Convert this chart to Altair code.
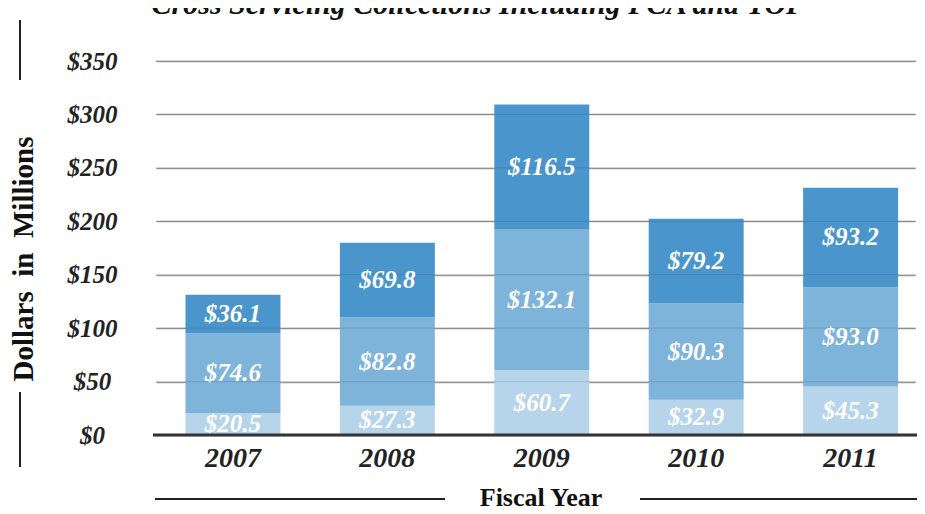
import altair as alt
import pandas as pd

years = ["2007", "2008", "2009", "2010", "2011"]
lower = [20.5, 27.3, 60.7, 32.9, 45.3]
middle = [74.6, 82.8, 132.1, 90.3, 93.0]
upper = [36.1, 69.8, 116.5, 79.2, 93.2]
series = ["Lower", "Middle", "Upper"]
colors = ["#B6D5EA", "#7EB3DA", "#4A96CC"]
y_ticks = [0, 50, 100, 150, 200, 250, 300, 350]

rows = []
for i, y in enumerate(years):
    for k, (name, vals) in enumerate(zip(series, [lower, middle, upper])):
        rows.append({"year": y, "series": name, "order": k, "value": vals[i]})
df = pd.DataFrame(rows)

SERIF = "Liberation Serif"
W, H = 762, 374

xscale = alt.Scale(domain=years, paddingInner=0.385, paddingOuter=0.16, align=0.617)
yscale = alt.Scale(domain=[0, 350], nice=False, zero=True)

yaxis = alt.Axis(title=None, values=y_ticks, domain=False, ticks=False, tickSize=0,
                 labelPadding=63, labelAlign="center", labelBaseline="middle",
                 labelExpr="'$' + datum.value",
                 labelFont=SERIF, labelFontSize=25, labelFontStyle="italic",
                 labelFontWeight="bold", labelColor="#222",
                 grid=True, gridColor="#9a9a9a", gridWidth=1.3)
xaxis = alt.Axis(title=None, domain=False, ticks=False, tickSize=0, labelPadding=9,
                 labelFont=SERIF, labelFontSize=28, labelFontStyle="italic",
                 labelFontWeight="bold", labelColor="#222", labelAngle=0, grid=False)

base = alt.Chart(df).transform_stack(
    stack="value", groupby=["year"], sort=[alt.SortField("order")], as_=["y0", "y1"]
)

bars = base.mark_bar(opacity=1).encode(
    x=alt.X("year:N", scale=xscale, sort=years, axis=xaxis),
    y=alt.Y("y0:Q", scale=yscale, axis=yaxis),
    y2="y1:Q",
    color=alt.Color("series:N", scale=alt.Scale(domain=series, range=colors), legend=None),
)

grid_df = pd.DataFrame({"v": y_ticks[1:]})
grid_over = alt.Chart(grid_df).mark_rule(color="#000", opacity=0.1, strokeWidth=1.3).encode(
    y=alt.Y("v:Q", scale=yscale, axis=yaxis)
)

zero_df = pd.DataFrame({"v": [0]})
# white cover over the light frame at the plot's left and right edges
cover = [
    alt.Chart(zero_df).mark_rule(color="white", strokeWidth=2.5).encode(
        x=alt.value(0), y=alt.value(0), y2=alt.value(H - 2)),
    alt.Chart(zero_df).mark_rule(color="white", strokeWidth=2.5).encode(
        x=alt.value(W), y=alt.value(0), y2=alt.value(H - 2)),
]

labels = base.transform_calculate(
    mid="(datum.y0 + datum.y1) / 2",
    label="'$' + format(datum.value, '.1f')",
).mark_text(font=SERIF, fontSize=25, fontStyle="italic", fontWeight="bold",
            color="white", baseline="middle", align="center").encode(
    x=alt.X("year:N", scale=xscale, sort=years, axis=xaxis),
    y=alt.Y("mid:Q", scale=yscale, axis=yaxis),
    text="label:N",
)

zero_line = alt.Chart(zero_df).mark_rule(color="#333", strokeWidth=3).encode(
    y=alt.Y("v:Q", scale=yscale, axis=yaxis), x=alt.value(-2), x2=alt.value(W)
)

one = pd.DataFrame({"t": ["Cross Servicing Collections Including PCA and TOP"]})
title = alt.Chart(one).mark_text(font=SERIF, fontSize=30, fontStyle="italic", fontWeight="bold",
                                 color="#111", align="center", baseline="alphabetic").encode(
    x=alt.value(323), y=alt.value(-47), text="t:N"
)

ytitle_df = pd.DataFrame({"t": ["Dollars\u00a0\u00a0in\u00a0\u00a0Millions"]})
ytitle = alt.Chart(ytitle_df).mark_text(font=SERIF, fontSize=29, fontWeight="bold", color="#111",
                                        align="center", baseline="middle", angle=270).encode(
    x=alt.value(-131), y=alt.value(198), text="t:N"
)

xtitle_df = pd.DataFrame({"t": ["Fiscal Year"]})
xtitle = alt.Chart(xtitle_df).mark_text(font=SERIF, fontSize=26, fontWeight="bold", color="#111",
                                        align="center", baseline="alphabetic").encode(
    x=alt.value(386), y=alt.value(445), text="t:N"
)

line_style = dict(color="#222", strokeWidth=2)
deco = [
    alt.Chart(zero_df).mark_rule(**line_style).encode(x=alt.value(-135), y=alt.value(-41), y2=alt.value(19)),
    alt.Chart(zero_df).mark_rule(**line_style).encode(x=alt.value(-135), y=alt.value(331), y2=alt.value(406)),
    alt.Chart(zero_df).mark_rule(**line_style).encode(x=alt.value(0), x2=alt.value(290), y=alt.value(438)),
    alt.Chart(zero_df).mark_rule(**line_style).encode(x=alt.value(485), x2=alt.value(W), y=alt.value(438)),
]

chart = alt.layer(bars, grid_over, *cover, labels, zero_line, title, ytitle, xtitle, *deco).properties(
    width=W, height=H,
    autosize=alt.AutoSizeParams(type="none"),
    padding={"left": 147, "top": 53, "right": 0, "bottom": 79},
    view=alt.ViewBackground(strokeWidth=0, strokeOpacity=0),
).configure(
    background="white",
    view=alt.ViewConfig(strokeWidth=0, strokeOpacity=0),
)

chart.save("out.html", embed_options={"renderer": "svg", "actions": False})
